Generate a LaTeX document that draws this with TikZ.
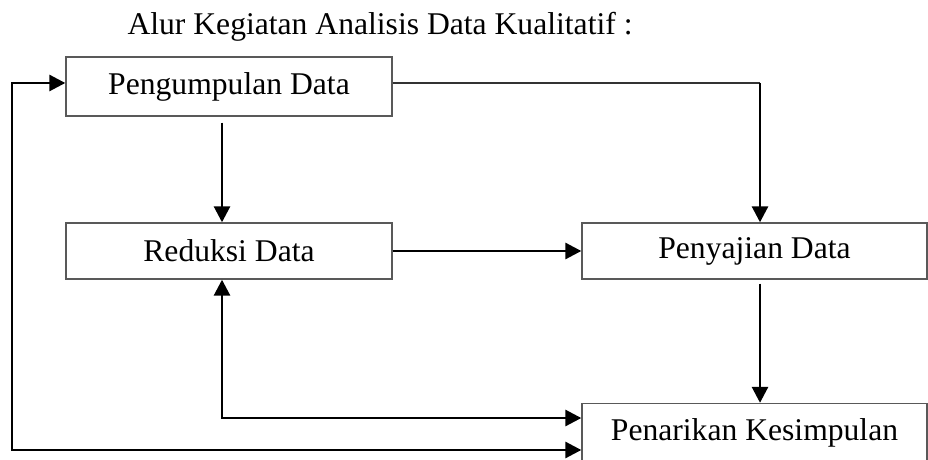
\documentclass[tikz,border=0pt]{standalone}
\usepackage{fontspec}
\setmainfont{Liberation Serif}
\usepackage{tikz}
\usetikzlibrary{arrows.meta}

\begin{document}
\begin{tikzpicture}[x=0.02cm, y=-0.02cm,
  kotak/.style={draw=black!65, line width=0.8pt, fill=white, inner sep=0pt,
    font=\fontsize{18}{22}\selectfont},
  panah/.style={line width=1.6pt, -{Triangle[length=0.32cm, width=0.32cm]}},
  panahdua/.style={line width=1.6pt, {Triangle[length=0.32cm, width=0.32cm]}-{Triangle[length=0.32cm, width=0.32cm]}},
  garis/.style={line width=0.9pt, draw=black!80}]
  \useasboundingbox (0,0) rectangle (928,459);
  \node[anchor=base, font=\fontsize{18}{22}\selectfont] (judul) at (380,35) {Alur Kegiatan Analisis Data Kualitatif :};
  \node[kotak, minimum width=6.52cm, minimum height=1.18cm] (kumpul) at (229,86.5) {Pengumpulan Data};
  \node[kotak, minimum width=6.52cm, minimum height=1.12cm] (reduksi) at (229,251) {Reduksi Data};
  \node[kotak, minimum width=6.9cm, minimum height=1.12cm] (sajian) at (754.5,251) {Penyajian Data};
  \node[kotak, minimum width=6.9cm, minimum height=1.16cm] (tarik) at (754.5,432.5) {Penarikan Kesimpulan};
  \coordinate (sudut) at (760,83);
  \coordinate (kiri) at (12,83);
  \draw[panah] ([xshift=-0.14cm, yshift=-0.12cm]kumpul.south) -- ([xshift=-0.14cm]reduksi.north);
  \draw[garis] (kumpul.east |- sudut) -- (sudut);
  \draw[panah] (sudut) -- (sudut |- sajian.north);
  \draw[panah] (reduksi.east) -- (sajian.west);
  \draw[panah] ([yshift=-0.08cm]sajian.south -| sudut) -- (tarik.north -| sudut);
  \draw[panahdua] ([xshift=-0.14cm]reduksi.south) |- ([yshift=0.29cm]tarik.west);
  \draw[panahdua] ([yshift=-0.35cm]tarik.west) -| (kiri) -- (kiri -| kumpul.west);
\end{tikzpicture}
\end{document}
